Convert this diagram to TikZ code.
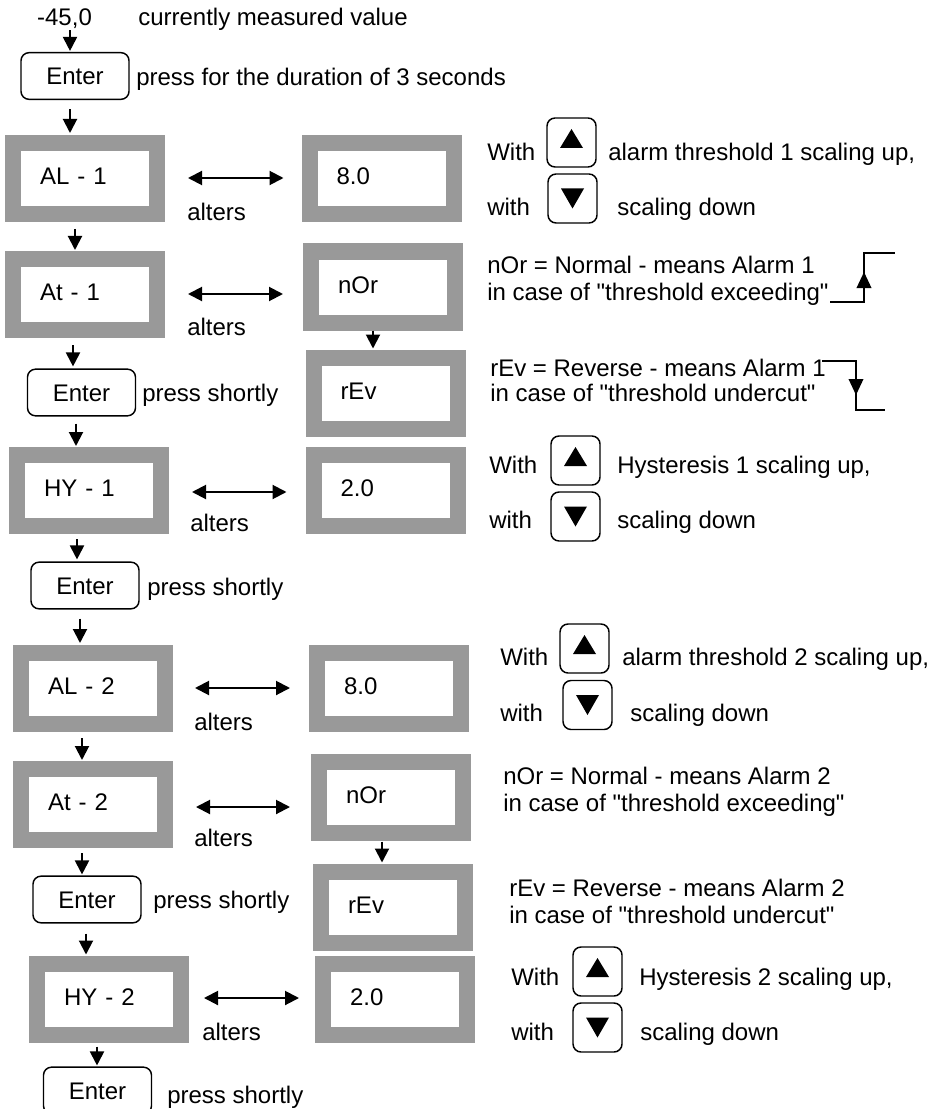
\documentclass[tikz,border=0pt]{standalone}
\usepackage{fontspec}
\newfontfamily\arialf{Liberation Sans}
\usetikzlibrary{arrows.meta}
\definecolor{framegray}{RGB}{153,153,153}
\begin{document}
\begin{tikzpicture}[x=0.75pt,y=-0.75pt,
  every node/.style={font=\arialf\fontsize{18}{21}\selectfont},
  txt/.style={inner sep=0pt, anchor=west, text height=12.9pt, text depth=0pt},
  disp/.style={draw=framegray, fill=white, line width=12pt, outer sep=6pt,
    minimum width=108pt, minimum height=53.25pt, inner xsep=20.25pt, inner ysep=0pt,
    text width=67.5pt, align=left, text height=12.9pt, text depth=3.75pt},
  enterbox/.style={draw, line width=1.1pt, rounded corners=6pt, minimum width=81pt,
    minimum height=35pt, inner sep=0pt, text height=12.9pt, text depth=0pt},
  btn/.style={draw, line width=1.1pt, rounded corners=6pt, minimum width=36.75pt,
    minimum height=36.75pt, inner sep=0pt},
  upbtn/.style={btn, path picture={\fill[sharp corners] ([shift={(-11.5,5.5)}]path picture bounding box.center)
    -- ([shift={(11.5,5.5)}]path picture bounding box.center)
    -- ([shift={(0,-13.5)}]path picture bounding box.center) -- cycle;}},
  downbtn/.style={btn, path picture={\fill[sharp corners] ([shift={(-11.5,-10)}]path picture bounding box.center)
    -- ([shift={(11.5,-10)}]path picture bounding box.center)
    -- ([shift={(0,10)}]path picture bounding box.center) -- cycle;}},
  arr/.style={line width=1.5pt, -{Triangle[length=10.5pt,width=10.5pt]}},
  darr/.style={line width=1.5pt, {Triangle[length=10.5pt,width=10.5pt]}-{Triangle[length=10.5pt,width=10.5pt]}},
  stepline/.style={line width=1.1pt},
  steparr/.style={line width=1.1pt, -{Triangle[length=12pt,width=11pt]}},
]
\useasboundingbox (0,0) rectangle (936,1109);
\fill[white] (0,0) rectangle (936,1109);
\clip (0,0) rectangle (936,1109);

% ---- top ----
\node[txt,anchor=center] (val) at (64.5,17) {-45,0};
\node[txt] (cmv) at (138,17) {currently measured value};
\node[enterbox] (E1) at (75,76) {Enter};
\node[txt] (p1) at (136,77) {press for the duration of 3 seconds};

% ---- AL-1 ----
\node[disp] (AL1) at (85,178.5) {AL - 1};
\node[disp] (V1) at (381.5,178.5) {8.0};
\node[txt] (alt1) at (187,212) {alters};
\node[txt] (w1) at (487,152) {With};
\node[upbtn] (u1) at (571.5,142.5) {};
\node[txt] (t1) at (608,152) {alarm threshold 1 scaling up,};
\node[txt] (w2) at (487,207) {with};
\node[downbtn] (dn1) at (572.5,198.5) {};
\node[txt] (t2) at (617,207) {scaling down};

% ---- At-1 ----
\node[disp] (At1) at (85,294.5) {At - 1};
\node[disp] (N1) at (383,287) {nOr};
\node[txt] (alt2) at (187,327) {alters};
\node[txt] (n1a) at (487,265) {nOr = Normal - means Alarm 1};
\node[txt] (n1b) at (487,292) {in case of "threshold exceeding"};
\draw[stepline] (830,302) -- (864,302) -- (864,253) -- (895,253);
\draw[steparr] (864,292) -- (864,272);

% ---- Enter 2 / rEv 1 ----
\node[enterbox] (E2) at (81.5,392.5) {Enter};
\node[txt] (p2) at (142,393) {press shortly};
\node[disp] (R1) at (385.5,393) {rEv};
\node[txt] (r1a) at (490,368) {rEv = Reverse - means Alarm 1};
\node[txt] (r1b) at (490,393) {in case of "threshold undercut"};
\draw[stepline] (822,361) -- (856,361) -- (856,410) -- (885,410);
\draw[steparr] (856,377) -- (856,395);

% ---- HY-1 ----
\node[disp] (HY1) at (89,490.5) {HY - 1};
\node[disp] (V2) at (385.5,490.5) {2.0};
\node[txt] (alt3) at (190,523) {alters};
\node[txt] (w3) at (489,465) {With};
\node[upbtn] (u2) at (575.5,460.5) {};
\node[txt] (t3) at (617,465) {Hysteresis 1 scaling up,};
\node[txt] (w4) at (489,520) {with};
\node[downbtn] (dn2) at (575.5,516.5) {};
\node[txt] (t4) at (617,520) {scaling down};

% ---- Enter 3 ----
\node[enterbox] (E3) at (85,585.5) {Enter};
\node[txt] (p3) at (147,587) {press shortly};

% ---- AL-2 ----
\node[disp] (AL2) at (93,688.5) {AL - 2};
\node[disp] (V3) at (389,688.5) {8.0};
\node[txt] (alt4) at (194,722) {alters};
\node[txt] (w5) at (500,657) {With};
\node[upbtn] (u3) at (584.5,648.5) {};
\node[txt] (t5) at (622,657) {alarm threshold 2 scaling up,};
\node[txt] (w6) at (500,713) {with};
\node[downbtn] (dn3) at (587.5,705) {};
\node[txt] (t6) at (630,713) {scaling down};

% ---- At-2 ----
\node[disp] (At2) at (93,804.5) {At - 2};
\node[disp] (N2) at (391,797) {nOr};
\node[txt] (alt5) at (194,838) {alters};
\node[txt] (n2a) at (503,776) {nOr = Normal - means Alarm 2};
\node[txt] (n2b) at (503,803) {in case of "threshold exceeding"};

% ---- Enter 4 / rEv 2 ----
\node[enterbox] (E4) at (87,899.5) {Enter};
\node[txt] (p4) at (153,900) {press shortly};
\node[disp] (R2) at (393,907) {rEv};
\node[txt] (r2a) at (509,888) {rEv = Reverse - means Alarm 2};
\node[txt] (r2b) at (509,915) {in case of "threshold undercut"};

% ---- HY-2 ----
\node[disp] (HY2) at (109,999) {HY - 2};
\node[disp] (V4) at (395,999) {2.0};
\node[txt] (alt6) at (202,1032) {alters};
\node[txt] (w7) at (511,977) {With};
\node[upbtn] (u4) at (597.5,971.5) {};
\node[txt] (t7) at (639,977) {Hysteresis 2 scaling up,};
\node[txt] (w8) at (511,1032) {with};
\node[downbtn] (dn4) at (597.5,1027.5) {};
\node[txt] (t8) at (640,1032) {scaling down};

% ---- Enter 5 ----
\node[enterbox] (E5) at (97.5,1090.5) {Enter};
\node[txt] (p5) at (167,1095) {press shortly};

% ---- down arrows ----
\draw[arr] ([shift={(5.5,4.4)}]val.south) -- ([shift={(-5,-1)}]E1.north);
\draw[arr] ([shift={(-5,9)}]E1.south) -- ([shift={(-15,-2)}]AL1.north);
\draw[arr] ([shift={(-10,7)}]AL1.south) -- ([shift={(-10,-1)}]At1.north);
\draw[arr] ([shift={(-12,7)}]At1.south) -- ([shift={(-8.5,-2)}]E2.north);
\draw[arr] ([shift={(-5.5,7)}]E2.south) -- ([shift={(-13,-1)}]HY1.north);
\draw[arr] ([shift={(-12,5)}]HY1.south) -- ([shift={(-8,-2)}]E3.north);
\draw[arr] ([shift={(-5,9)}]E3.south) -- ([shift={(-13,-2)}]AL2.north);
\draw[arr] ([shift={(-11,6)}]AL2.south) -- ([shift={(-11,-1)}]At2.north);
\draw[arr] ([shift={(-11,5)}]At2.south) -- ([shift={(-5,-1)}]E4.north);
\draw[arr] ([shift={(-1,10)}]E4.south) -- ([shift={(-23,-1)}]HY2.north);
\draw[arr] ([shift={(-12,4)}]HY2.south) -- ([shift={(-0.5,-1)}]E5.north);
\draw[arr] ([shift={(-10,0)}]N1.south) -- ([shift={(-12.5,-1)}]R1.north);
\draw[arr] ([shift={(-9,1)}]N2.south) -- ([shift={(-11,-1)}]R2.north);

% ---- alters arrows ----
\draw[darr] ([shift={(23,-0.5)}]AL1.east) -- ([shift={(-18,-0.5)}]V1.west);
\draw[darr] ([shift={(23,-0.5)}]At1.east) -- ([shift={(-20,7)}]N1.west);
\draw[darr] ([shift={(23,1.5)}]HY1.east) -- ([shift={(-19,1.5)}]V2.west);
\draw[darr] ([shift={(22,-0.5)}]AL2.east) -- ([shift={(-19,-0.5)}]V3.west);
\draw[darr] ([shift={(23,2.5)}]At2.east) -- ([shift={(-21,10)}]N2.west);
\draw[darr] ([shift={(15,-1)}]HY2.east) -- ([shift={(-16,-1)}]V4.west);
\end{tikzpicture}
\end{document}
